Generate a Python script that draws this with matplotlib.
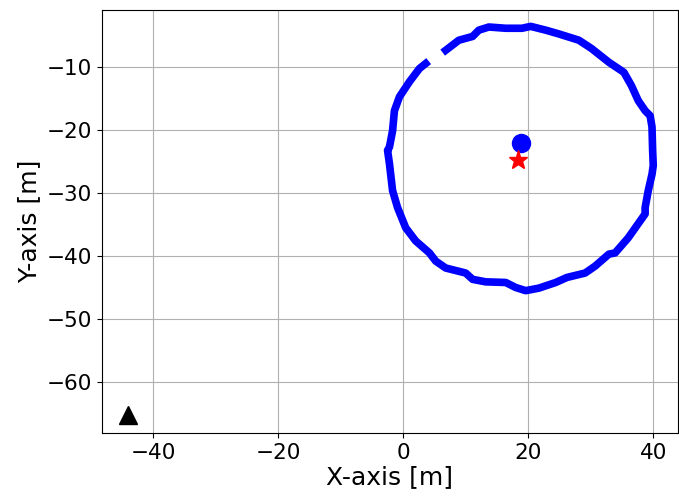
import matplotlib.pyplot as plt
import numpy as np

# path of the tracked trajectory (clockwise, starting after the gap)
PATH_X = [6.8, 8.9, 11.1, 12.1, 13.7, 16.4, 19.0, 20.4, 22.8, 24.9, 28.1, 30.1,
          32.9, 35.3, 36.5, 37.6, 38.7, 39.5, 39.8, 39.9, 40.0, 39.8, 39.2, 38.7,
          38.7, 36.0, 33.9, 32.9, 30.7, 29.1, 26.2, 24.4, 21.7, 19.6, 18.0, 16.4,
          13.2, 11.1, 10.0, 6.8, 5.2, 4.2, 2.0, 0.4, -0.9, -1.7, -2.2, -2.5,
          -2.2, -1.7, -1.4, -0.6, 1.0, 2.6, 3.6]
PATH_Y = [-7.3, -5.7, -5.1, -4.1, -3.6, -3.8, -3.8, -3.5, -4.1, -4.7, -5.7, -7.0,
          -9.2, -10.8, -12.9, -15.3, -16.9, -17.7, -19.5, -23.2, -25.6, -27.0,
          -29.6, -32.3, -33.3, -37.1, -39.5, -39.7, -41.6, -42.7, -43.4, -44.2,
          -45.1, -45.5, -45.0, -44.2, -44.1, -43.7, -42.7, -41.9, -40.8, -39.5,
          -37.6, -35.5, -32.3, -29.6, -25.3, -23.2, -22.7, -20.1, -16.9, -14.7,
          -12.3, -10.2, -9.4]

CENTER_EST = (18.9, -22.1)   # blue circle
CENTER_TRUE = (18.4, -24.7)  # red star
ORIGIN = (-44.0, -65.2)      # black triangle


def main() -> None:
    fig, ax = plt.subplots(figsize=(6.79, 5.01), dpi=100)
    fig.subplots_adjust(left=0.150, right=0.998, top=0.980, bottom=0.136)

    ax.plot(PATH_X, PATH_Y, color="blue", lw=5.5)
    ax.plot(*CENTER_EST, "o", color="blue", ms=13)
    ax.plot(*CENTER_TRUE, "*", color="red", ms=14)
    ax.plot(*ORIGIN, "^", color="black", ms=13)

    ax.set_xlim(-48.2, 43.9)
    ax.set_ylim(-68.1, -0.9)
    ax.grid(True, color="#b0b0b0")
    ax.set_axisbelow(True)
    ax.tick_params(labelsize=15.5)
    ax.set_xlabel("X-axis [m]", fontsize=18, labelpad=2)
    ax.set_ylabel("Y-axis [m]", fontsize=18, labelpad=4)

    fig.savefig("out.png", dpi=100)


if __name__ == "__main__":
    main()
